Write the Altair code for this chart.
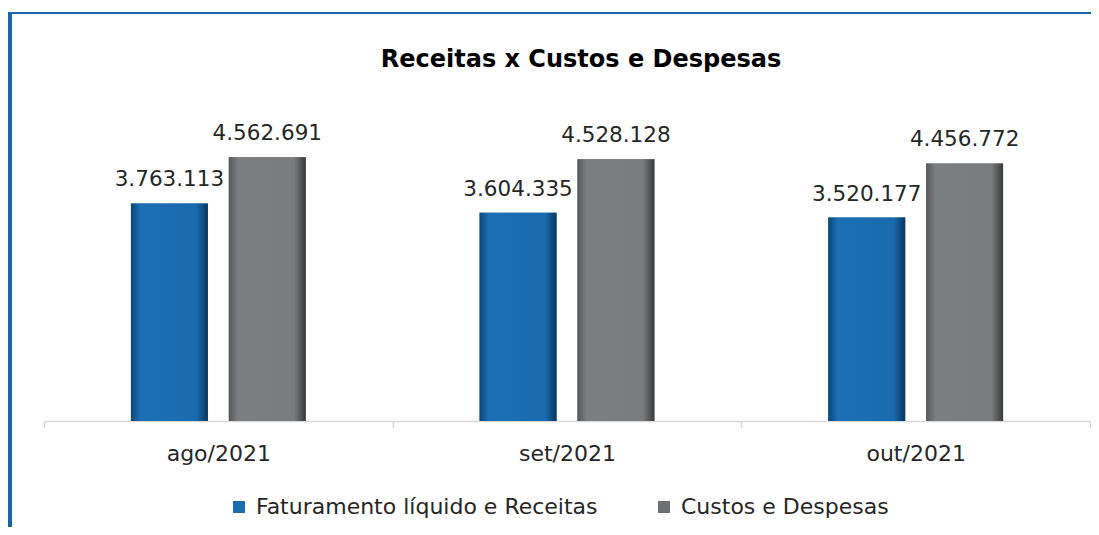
import altair as alt
import pandas as pd

FONT = "DejaVu Sans"
TEXT = "#262626"
BORDER = "#1b66a8"

title_text = "Receitas x Custos e Despesas"
months = ["ago/2021", "set/2021", "out/2021"]
series = ["Faturamento líquido e Receitas", "Custos e Despesas"]
receitas = [3763113, 3604335, 3520177]
custos = [4562691, 4528128, 4456772]

rows = []
for m, r, c in zip(months, receitas, custos):
    rows.append({"mes": m, "serie": series[0], "value": r})
    rows.append({"mes": m, "serie": series[1], "value": c})
df = pd.DataFrame(rows)
df["label"] = df["value"].map(lambda v: f"{v:,}".replace(",", "."))

grad_blue = alt.Gradient(
    gradient="linear", x1=0, x2=1, y1=0, y2=0,
    stops=[alt.GradientStop(color="#0c4677", offset=0),
           alt.GradientStop(color="#1b6fb4", offset=0.12),
           alt.GradientStop(color="#1a6bae", offset=0.85),
           alt.GradientStop(color="#08365f", offset=1)])
grad_gray = alt.Gradient(
    gradient="linear", x1=0, x2=1, y1=0, y2=0,
    stops=[alt.GradientStop(color="#565758", offset=0),
           alt.GradientStop(color="#7c7e80", offset=0.12),
           alt.GradientStop(color="#797b7d", offset=0.85),
           alt.GradientStop(color="#3a3a3a", offset=1)])

base = alt.Chart(df).encode(
    x=alt.X("mes:N", sort=months,
            scale=alt.Scale(domain=months, paddingInner=0, paddingOuter=0),
            axis=alt.Axis(title=None, labelAngle=0, labelFontSize=22, labelFont=FONT,
                          labelColor=TEXT, domainColor="#d9d9d9", tickColor="#d9d9d9",
                          tickSize=7, tickBand="extent", labelPadding=15,
                          domainWidth=1.5, tickWidth=1.5, grid=False)),
    xOffset=alt.XOffset("serie:N", sort=series,
                        scale=alt.Scale(domain=series, paddingInner=0.214, paddingOuter=0.888)),
    y=alt.Y("value:Q", scale=alt.Scale(domain=[0, 5000000], nice=False), axis=None),
)

bars = base.mark_bar().encode(
    color=alt.Color("serie:N", sort=series,
                    scale=alt.Scale(domain=series, range=["#1b6db0", "#6e7072"]),
                    legend=alt.Legend(title=None, orient="none", legendX=184, legendY=364,
                                      direction="horizontal", symbolType="square",
                                      symbolSize=144, labelFontSize=22, labelFont=FONT,
                                      labelColor=TEXT, columnPadding=55, labelOffset=6,
                                      labelLimit=600, symbolStrokeWidth=0, padding=0))
)
blue_overlay = base.transform_filter(alt.datum.serie == series[0]).mark_bar(fill=grad_blue)
gray_overlay = base.transform_filter(alt.datum.serie == series[1]).mark_bar(fill=grad_gray)

labels = base.mark_text(dy=-17, baseline="alphabetic", fontSize=21.5, font=FONT,
                        color=TEXT).encode(text="label:N")

frame = alt.Data(values=[{"t": title_text}])
title = alt.Chart(frame).mark_text(font=FONT, fontSize=24, fontWeight="bold", color="#000000",
                                   align="center", baseline="alphabetic").encode(
    text="t:N", x=alt.value(537), y=alt.value(-65))
border_top = alt.Chart(frame).mark_rule(color=BORDER, strokeWidth=2).encode(
    x=alt.value(-36), x2=alt.value(1050), y=alt.value(-119))
border_left = alt.Chart(frame).mark_rule(color=BORDER, strokeWidth=4).encode(
    x=alt.value(-34), y=alt.value(-120), y2=alt.value(410))

chart = alt.layer(bars, blue_overlay, gray_overlay, labels, title, border_top, border_left).properties(
    width=1046, height=289,
    padding={"left": 36, "top": 124, "right": 1, "bottom": 106},
    autosize=alt.AutoSizeParams(type="none"),
).configure_view(stroke=None)

chart.save("out.html", embed_options={"renderer": "svg", "actions": False})
